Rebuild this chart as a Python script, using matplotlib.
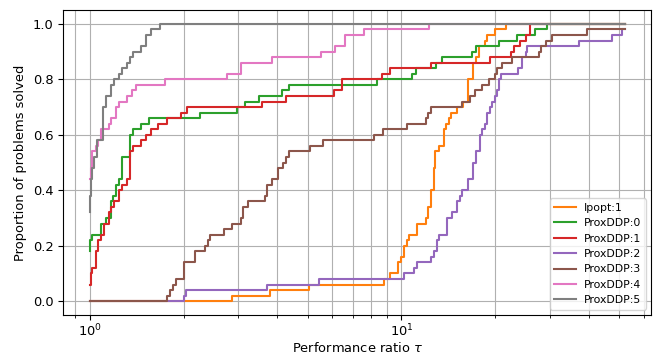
import matplotlib
matplotlib.use("Agg")
import matplotlib.pyplot as plt

# Performance profiles: fraction of problems solved within a ratio tau of the best solver
tau_max = 52.0

labels = ["Ipopt:1", "ProxDDP:0", "ProxDDP:1", "ProxDDP:2",
          "ProxDDP:3", "ProxDDP:4", "ProxDDP:5"]
colors = ["tab:orange", "tab:green", "tab:red", "tab:purple",
          "tab:brown", "tab:pink", "tab:gray"]

ipopt1_tau = [1.0, 2.87, 3.80, 5.04, 8.77, 9.22, 9.78, 9.99, 10.19, 10.4, 10.6,
              11.24, 11.95, 12.2, 12.4, 12.7, 12.8, 13.15, 13.7, 13.9, 14.2, 14.4,
              15.1, 15.8, 16.4, 17.0, 17.4, 17.7, 18.6, 18.8, 20.0, 21.7]
ipopt1_rho = [0.0, 0.02, 0.04, 0.06, 0.08, 0.10, 0.14, 0.16, 0.20, 0.22, 0.24,
              0.28, 0.30, 0.34, 0.40, 0.48, 0.54, 0.56, 0.62, 0.64, 0.66, 0.68,
              0.70, 0.72, 0.80, 0.86, 0.88, 0.92, 0.94, 0.96, 0.98, 1.0]

prox0_tau = [1.0, 1.005, 1.02, 1.084, 1.125, 1.167, 1.187, 1.21, 1.24, 1.265,
             1.35, 1.38, 1.457, 1.549, 2.256, 2.97, 3.16, 3.49, 4.14, 4.35,
             8.36, 10.8, 11.1, 12.95, 13.5, 16.85, 17.3, 20.5, 23.5, 26.8, 29.3]
prox0_rho = [0.18, 0.22, 0.24, 0.28, 0.30, 0.36, 0.38, 0.42, 0.44, 0.52,
             0.60, 0.62, 0.64, 0.66, 0.68, 0.70, 0.72, 0.74, 0.76, 0.78,
             0.80, 0.82, 0.84, 0.86, 0.88, 0.90, 0.92, 0.94, 0.96, 0.98, 1.0]

prox1_tau = [1.0, 1.01, 1.02, 1.045, 1.066, 1.084, 1.11, 1.152, 1.173, 1.2,
             1.24, 1.265, 1.32, 1.345, 1.38, 1.457, 1.512, 1.57, 1.65, 1.775,
             1.96, 2.046, 3.56, 4.25, 6.06, 6.45, 8.68, 9.22, 12.45, 19.3,
             22.5, 23.0, 24.0, 25.0, 25.9]
prox1_rho = [0.06, 0.10, 0.12, 0.18, 0.22, 0.24, 0.28, 0.32, 0.34, 0.36,
             0.40, 0.42, 0.44, 0.54, 0.56, 0.58, 0.60, 0.62, 0.64, 0.66,
             0.68, 0.70, 0.72, 0.74, 0.76, 0.80, 0.82, 0.84, 0.86, 0.88,
             0.90, 0.92, 0.94, 0.96, 1.0]

prox2_tau = [1.0, 2.0, 2.03, 3.71, 5.44, 10.19, 10.96, 11.24, 12.4, 12.7,
             13.0, 13.15, 13.97, 14.5, 15.1, 15.4, 15.6, 16.3, 16.4, 17.0,
             17.4, 17.8, 18.1, 18.5, 18.8, 19.2, 19.5, 19.9, 20.2, 20.5,
             20.8, 23.7, 24.4, 25.0, 25.3, 37.0, 47.3, 50.9]
prox2_rho = [0.0, 0.02, 0.04, 0.06, 0.08, 0.10, 0.12, 0.14, 0.16, 0.18,
             0.22, 0.24, 0.30, 0.32, 0.36, 0.38, 0.40, 0.42, 0.44, 0.50,
             0.54, 0.60, 0.62, 0.64, 0.68, 0.70, 0.72, 0.74, 0.76, 0.80,
             0.82, 0.84, 0.88, 0.90, 0.92, 0.94, 0.96, 0.98]

prox3_tau = [1.0, 1.775, 1.81, 1.856, 1.886, 2.006, 2.175, 2.35, 2.40, 2.44,
             2.69, 2.87, 3.05, 3.11, 3.21, 3.64, 3.71, 3.85, 4.02, 4.17,
             4.25, 4.35, 5.08, 5.62, 8.19, 8.74, 10.39, 11.95, 12.15, 12.4,
             15.6, 16.6, 17.2, 18.1, 19.1, 19.9, 20.2, 21.0, 22.6, 27.6,
             28.0, 29.1, 30.4, 39.4]
prox3_rho = [0.0, 0.02, 0.04, 0.06, 0.08, 0.14, 0.18, 0.20, 0.22, 0.24,
             0.26, 0.28, 0.30, 0.34, 0.36, 0.38, 0.42, 0.44, 0.48, 0.50,
             0.52, 0.54, 0.56, 0.58, 0.60, 0.62, 0.64, 0.66, 0.68, 0.70,
             0.72, 0.74, 0.76, 0.78, 0.80, 0.82, 0.84, 0.86, 0.88, 0.90,
             0.92, 0.94, 0.96, 0.98]

prox4_tau = [1.0, 1.008, 1.015, 1.02, 1.045, 1.06, 1.085, 1.153, 1.174, 1.211,
             1.241, 1.32, 1.37, 1.404, 1.75, 2.76, 3.05, 3.85, 5.5, 6.1,
             6.61, 7.57, 12.24]
prox4_rho = [0.44, 0.48, 0.50, 0.54, 0.56, 0.58, 0.62, 0.64, 0.66, 0.70,
             0.72, 0.74, 0.76, 0.78, 0.80, 0.82, 0.86, 0.88, 0.90, 0.92,
             0.96, 0.98, 1.0]

prox5_tau = [1.0, 1.005, 1.012, 1.02, 1.035, 1.058, 1.106, 1.125, 1.174, 1.197,
             1.241, 1.266, 1.32, 1.344, 1.377, 1.457, 1.519, 1.577, 1.676]
prox5_rho = [0.32, 0.38, 0.44, 0.48, 0.52, 0.58, 0.70, 0.74, 0.78, 0.80,
             0.82, 0.84, 0.86, 0.88, 0.90, 0.92, 0.96, 0.98, 1.0]

all_tau = [ipopt1_tau, prox0_tau, prox1_tau, prox2_tau, prox3_tau, prox4_tau, prox5_tau]
all_rho = [ipopt1_rho, prox0_rho, prox1_rho, prox2_rho, prox3_rho, prox4_rho, prox5_rho]

plt.rcParams["font.size"] = 9.4

fig, ax = plt.subplots(figsize=(6.56, 3.58), dpi=100)
for tau, rho, lab, col in zip(all_tau, all_rho, labels, colors):
    ax.step(tau + [tau_max], rho + [rho[-1]], where="post", label=lab, color=col, lw=1.5)

ax.set_xscale("log")
ax.grid(True, which="both")
ax.tick_params(axis="x", which="major", pad=2)
ax.set_xlabel(r"Performance ratio $\tau$", labelpad=1)
ax.set_ylabel("Proportion of problems solved")
ax.legend(loc="lower right", fontsize=7.8)
fig.subplots_adjust(left=0.096, right=0.993, top=0.972, bottom=0.12)
fig.savefig("out.png", dpi=100)
